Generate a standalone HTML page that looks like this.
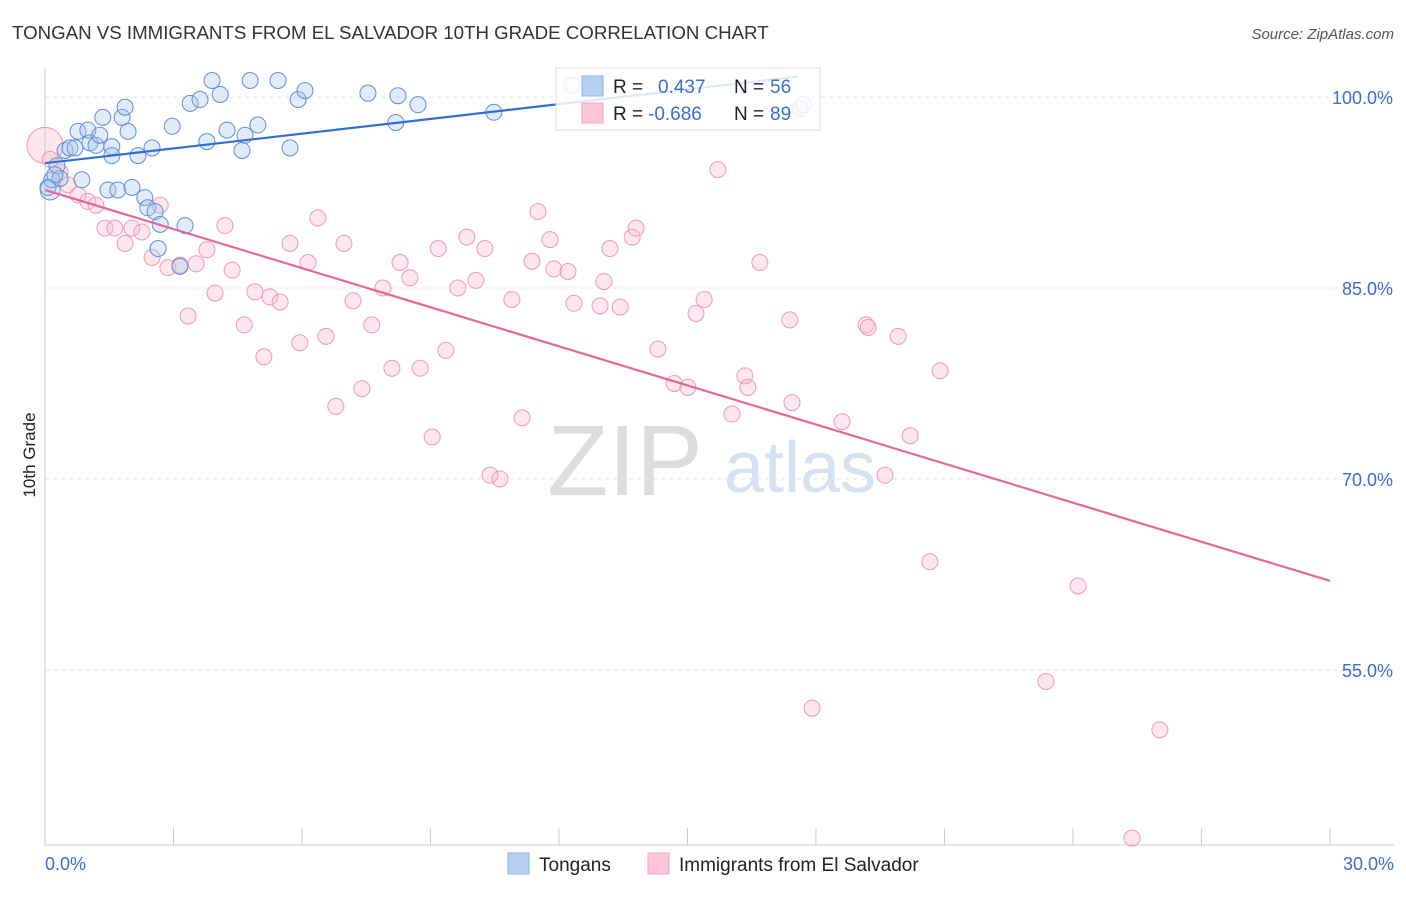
<!DOCTYPE html>
<html><head><meta charset="utf-8"><style>
body{margin:0;background:#fff;font-family:"Liberation Sans",sans-serif}
svg text{font-family:"Liberation Sans",sans-serif}
</style></head><body>
<svg id="c" width="1406" height="892" xmlns="http://www.w3.org/2000/svg">
<text x="12" y="39" font-size="18.7" fill="#333">TONGAN VS IMMIGRANTS FROM EL SALVADOR 10TH GRADE CORRELATION CHART</text>
<text x="1394" y="39" font-size="15" fill="#555" text-anchor="end" font-style="italic">Source: ZipAtlas.com</text>
<text x="35" y="455" font-size="17" fill="#222" text-anchor="middle" transform="rotate(-90 35 455)">10th Grade</text>
<text x="625" y="495" font-size="100" fill="#ddd" font-family="Liberation Serif" text-anchor="middle">ZIP</text>
<text x="800" y="492" font-size="72" fill="#d5e2f3" text-anchor="middle">atlas</text>
<g id="grid"></g><g id="axes"></g><g id="pts"></g><g id="lines"></g>
<g>
<rect x="556" y="68" width="264" height="62" fill="#fff" fill-opacity="0.85" stroke="#ddd"/>
<rect x="582" y="76" width="21" height="20" fill="#b6d0f2" stroke="#8fb3e6"/>
<rect x="582" y="103" width="21" height="20" fill="#fcc6d6" stroke="#f4a3bc"/>
<text x="613" y="93" font-size="19" fill="#222">R = </text><text x="658" y="93" font-size="19" fill="#3a6fd0">0.437</text>
<text x="734" y="93" font-size="19" fill="#222">N = </text><text x="770" y="93" font-size="19" fill="#3a6fd0">56</text>
<text x="613" y="120" font-size="19" fill="#222">R = </text><text x="648" y="120" font-size="19" fill="#3a6fd0">-0.686</text>
<text x="734" y="120" font-size="19" fill="#222">N = </text><text x="770" y="120" font-size="19" fill="#3a6fd0">89</text>
</g>
<g>
<rect x="508" y="853" width="21" height="21" fill="#b6d0f2" stroke="#8fb3e6"/>
<text x="539" y="871" font-size="19" fill="#222">Tongans</text>
<rect x="648" y="853" width="21" height="21" fill="#fcc6d6" stroke="#f4a3bc"/>
<text x="679" y="871" font-size="19" fill="#222">Immigrants from El Salvador</text>
</g>
</svg>
<script>
const yTicks=[100,85,70,55];
const yTickLabels=["100.0%","85.0%","70.0%","55.0%"];
const xTickLabels=["0.0%","30.0%"];
const blueX=[0.12,0.16,0.28,0.35,0.47,0.58,0.70,0.77,0.86,1.00,1.05,1.19,1.28,1.35,1.47,1.56,1.56,1.70,1.80,1.87,1.94,2.03,2.17,2.33,2.40,2.50,2.57,2.64,2.69,2.97,3.15,3.27,3.39,3.62,3.78,3.90,4.09,4.25,4.60,4.67,4.79,4.97,5.44,5.72,5.91,6.07,7.54,8.19,8.24,8.71,10.48,12.30,17.63,17.70,0.07,0.23];
const blueY=[92.7,93.5,94.6,93.6,95.8,96.0,96.0,97.3,93.5,97.4,96.4,96.2,97.0,98.4,92.7,96.1,95.4,92.7,98.4,99.2,97.3,92.9,95.4,92.1,91.3,96.0,91.0,88.1,90.0,97.7,86.7,89.9,99.5,99.8,96.5,101.3,100.2,97.4,95.8,97.0,101.3,97.8,101.3,96.0,99.8,100.5,100.3,98.0,100.1,99.4,98.8,100.9,99.1,99.4,92.9,93.9];
const pinkX=[0,0.12,0.35,0.54,0.77,1.00,1.19,1.40,1.63,1.87,2.03,2.26,2.50,2.69,2.87,3.15,3.34,3.53,3.78,3.97,4.20,4.37,4.65,4.90,5.11,5.25,5.49,5.72,5.95,6.14,6.37,6.56,6.79,6.98,7.19,7.40,7.63,7.89,8.10,8.29,8.52,8.76,9.04,9.18,9.36,9.64,9.85,10.06,10.27,10.39,10.62,10.90,11.14,11.37,11.51,11.79,11.88,12.21,12.35,12.96,13.05,13.19,13.43,13.71,13.80,14.31,14.69,15.01,15.20,15.39,15.71,16.04,16.34,16.41,16.69,17.39,17.44,17.91,18.61,19.17,19.22,19.61,19.92,20.20,20.66,20.90,24.12,23.37,26.03,25.38];
const pinkY=[96.2,95.1,94.1,93.1,92.3,91.8,91.5,89.7,89.7,88.5,89.7,89.4,87.4,91.5,86.6,86.8,82.8,86.9,88.0,84.6,89.9,86.4,82.1,84.7,79.6,84.3,83.9,88.5,80.7,87.0,90.5,81.2,75.7,88.5,84.0,77.1,82.1,85.0,78.7,87.0,85.8,78.7,73.3,88.1,80.1,85.0,89.0,85.6,88.1,70.3,70.0,84.1,74.8,87.1,91.0,88.8,86.5,86.3,83.8,83.6,85.5,88.1,83.5,89.0,89.7,80.2,77.5,77.2,83.0,84.1,94.3,75.1,78.1,77.2,87.0,82.5,76.0,52.0,74.5,82.1,81.9,70.3,81.2,73.4,63.5,78.5,61.6,54.1,50.3,41.8];
const blueTrend=[0,30,94.8,106.4];
const pinkTrend=[0,30,92.7,62.0];
const X=v=>45+v*42.83, Y=v=>97+(100-v)*12.733;
const ns="http://www.w3.org/2000/svg";
function mk(t,a,p){const e=document.createElementNS(ns,t);for(const k in a)e.setAttribute(k,a[k]);document.getElementById(p).appendChild(e);return e;}
yTicks.forEach((t,i)=>{
 const l=mk('line',{x1:45,x2:1394,y1:Y(t),y2:Y(t),stroke:'#e3e3e3','stroke-dasharray':'4,4'},'grid');
 
 
 const tx=mk('text',{x:1393,y:Y(t)+7,'font-size':18,fill:'#3a6fd0','text-anchor':'end'},'axes');tx.textContent=yTickLabels[i];
 
 
});
mk('line',{x1:45,x2:1394,y1:845,y2:845,stroke:'#ccc'},'axes');
mk('line',{x1:45,x2:45,y1:68,y2:845,stroke:'#ccc'},'axes');
for(let i=1;i<=10;i++){const l=mk('line',{x1:X(i*3),x2:X(i*3),y1:828,y2:845,stroke:'#ccc'},'axes');
 
 }
[[0,45,'start'],[30,1394,'end']].forEach((d,i)=>{const t=mk('text',{x:d[1],y:870,'font-size':18,fill:'#3a6fd0','text-anchor':d[2]},'axes');t.textContent=xTickLabels[i];
 
 });
pinkX.forEach((x,i)=>{if(pinkY[i]===undefined)return;const c=mk('circle',{cx:X(x),cy:Y(pinkY[i]),r:i===0?18:8,fill:'#f8b9cc','fill-opacity':0.35,stroke:'#ee9ab4','stroke-width':1},'pts');
 
 });
blueX.forEach((x,i)=>{const c=mk('circle',{cx:X(x),cy:Y(blueY[i]),r:i===0?10:8,fill:'#a9c6ee','fill-opacity':0.35,stroke:'#5f8fd6','stroke-width':1},'pts');
 
 });
const bx2=17.6, by2=blueTrend[2]+(blueTrend[3]-blueTrend[2])*bx2/30;
const bl=mk('line',{x1:X(0),y1:Y(blueTrend[2]),x2:X(bx2),y2:Y(by2),stroke:'#2f6fd3','stroke-width':2.2},'lines');


const pl=mk('line',{x1:X(pinkTrend[0]),y1:Y(pinkTrend[2]),x2:X(pinkTrend[1]),y2:Y(pinkTrend[3]),stroke:'#e4679a','stroke-width':2.2},'lines');


</script>
</body></html>
